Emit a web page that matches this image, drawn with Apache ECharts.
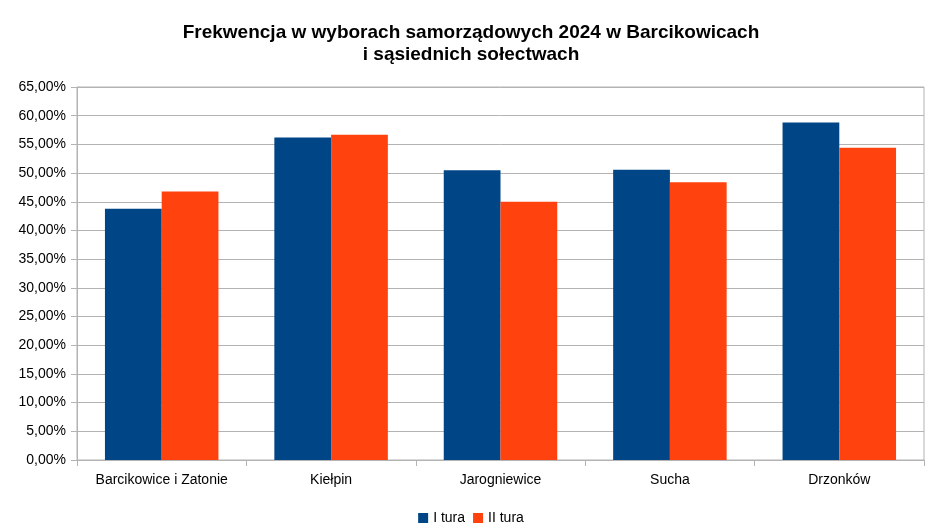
<!DOCTYPE html>
<html><head><meta charset="utf-8">
<script src="https://cdn.jsdelivr.net/npm/echarts@6/dist/echarts.min.js"></script>
<style>html,body{margin:0;padding:0;background:#fff}#c{width:942px;height:531px}</style>
</head><body><div id="c"></div>
<script>
const categories = ['Barcikowice i Zatonie', 'Kiełpin', 'Jarogniewice', 'Sucha', 'Drzonków'];
const tura1 = [43.8, 56.2, 50.5, 50.6, 58.8];
const tura2 = [46.8, 56.7, 45.0, 48.4, 54.4];
const seriesNames = ['I tura', 'II tura'];
const chart = echarts.init(document.getElementById('c'));
const font = 'Liberation Sans';
chart.setOption({
  animation: false,
  title: {
    text: 'Frekwencja w wyborach samorządowych 2024 w Barcikowicach\ni sąsiednich sołectwach',
    left: 'center', top: 17,
    textStyle: {fontFamily: font, fontSize: 19, fontWeight: 'bold', color: '#000', lineHeight: 22}
  },
  legend: {
    bottom: 1, left: 'center', itemWidth: 10, itemHeight: 10, itemGap: 8,
    icon: 'rect',
    textStyle: {fontFamily: font, fontSize: 14, color: '#000'},
    data: seriesNames
  },
  grid: {left: 77, right: 18, top: 87, bottom: 71, show: true, borderColor: '#b3b3b3', borderWidth: 1},
  xAxis: {
    type: 'category', data: categories,
    axisLine: {lineStyle: {color: '#b3b3b3'}},
    axisTick: {show: true, interval: 0, length: 6, lineStyle: {color: '#b3b3b3'}},
    axisLabel: {interval: 0, fontFamily: font, fontSize: 14, color: '#000', margin: 13}
  },
  yAxis: {
    type: 'value', min: 0, max: 65, interval: 5,
    axisLine: {show: true, lineStyle: {color: '#b3b3b3'}},
    axisTick: {show: true, length: 6, lineStyle: {color: '#b3b3b3'}},
    splitLine: {lineStyle: {color: '#b3b3b3'}},
    axisLabel: {fontFamily: font, fontSize: 14, color: '#000', margin: 11,
      formatter: v => v.toFixed(2).replace('.', ',') + '%'}
  },
  series: [
    {name: seriesNames[0], type: 'bar', data: tura1, barGap: '0%', barCategoryGap: '33%', itemStyle: {color: '#004586'}},
    {name: seriesNames[1], type: 'bar', data: tura2, barGap: '0%', barCategoryGap: '33%', itemStyle: {color: '#ff420e'}}
  ]
});
</script></body></html>
